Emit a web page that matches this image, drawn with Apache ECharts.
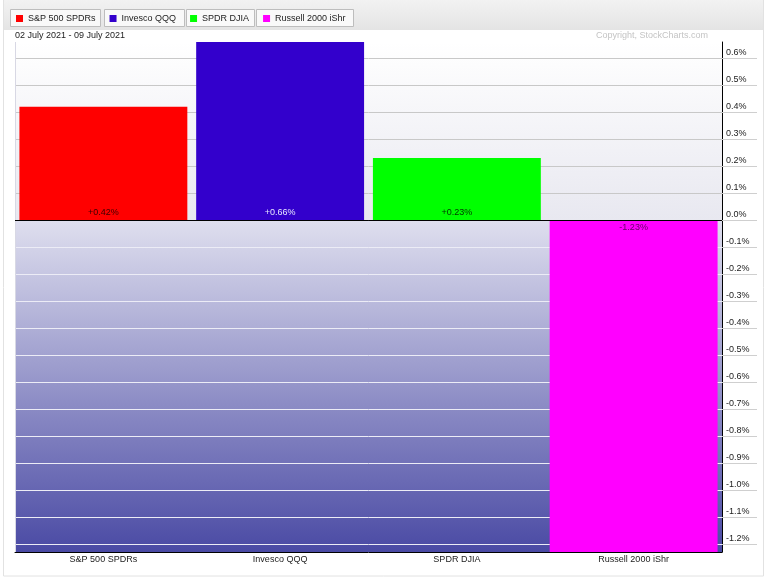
<!DOCTYPE html>
<html>
<head>
<meta charset="utf-8">
<script src="https://cdn.jsdelivr.net/npm/echarts@6/dist/echarts.min.js"></script>
<style>
html,body{margin:0;padding:0;background:#fff;}
#c{width:771px;height:581px;}
</style>
</head>
<body>
<div id="c"></div>
<script>
const categories = ['S&P 500 SPDRs', 'Invesco QQQ', 'SPDR DJIA', 'Russell 2000 iShr'];
const values = [0.42, 0.66, 0.23, -1.23];
const barColors = ['#ff0000', '#3300cc', '#00ff00', '#ff00ff'];
const labelColors = ['#3a0000', '#e6e6ff', '#003300', '#660066'];
const yTicks = [-1.2, -1.1, -1.0, -0.9, -0.8, -0.7, -0.6, -0.5, -0.4, -0.3, -0.2, -0.1, 0.0, 0.1, 0.2, 0.3, 0.4, 0.5, 0.6];
const dateRange = '02 July 2021 - 09 July 2021';
const copyright = 'Copyright, StockCharts.com';

const chart = echarts.init(document.getElementById('c'), null, {renderer: 'canvas'});

const FONT = 'Liberation Sans, Arial, sans-serif';
const FS = 9;

const series = categories.map((name, i) => ({
  name: name,
  type: 'bar',
  stack: 'all',
  barCategoryGap: '5%',
  itemStyle: {color: barColors[i]},
  data: categories.map((c, j) => j === i ? values[i] : '-'),
  label: {
    show: true,
    position: values[i] >= 0 ? 'insideBottom' : 'insideTop',
    distance: 3,
    formatter: p => (p.value > 0 ? '+' : '') + p.value.toFixed(2) + '%',
    color: labelColors[i],
    fontSize: FS,
    fontFamily: FONT
  },
  markLine: i === 0 ? {
    silent: true,
    symbol: 'none',
    label: {show: false},
    lineStyle: {color: '#000', width: 1, type: 'solid'},
    data: [{yAxis: 0}],
    animation: false
  } : undefined
}));

const splitColors = yTicks.map(v => v > 1e-9 ? '#c8c8c8' : (Math.abs(v) < 1e-9 ? '#000' : '#ececf6'));

chart.setOption({
  animation: false,
  backgroundColor: '#ffffff',
  grid: {
    left: 15, right: 49, top: 42, bottom: 29,
    show: true,
    borderWidth: 0,
    backgroundColor: new echarts.graphic.LinearGradient(0, 0, 0, 1, [
      {offset: 0, color: '#ffffff'},
      {offset: 0.35, color: '#e8e8f0'},
      {offset: 0.352, color: '#dedeee'},
      {offset: 1, color: '#4a4aa4'}
    ])
  },
  legend: {
    left: 11, top: 9,
    itemWidth: 7, itemHeight: 7,
    itemGap: 14,
    icon: 'rect',
    selectedMode: false,
    textStyle: {fontSize: FS, color: '#222', fontFamily: FONT},
    data: categories
  },
  xAxis: {
    type: 'category',
    data: categories,
    axisLine: {onZero: false, lineStyle: {color: '#000', width: 1}},
    axisTick: {show: false},
    axisLabel: {fontSize: FS, color: '#222', fontFamily: FONT, margin: 3}
  },
  yAxis: {
    type: 'value',
    position: 'right',
    min: 'dataMin',
    max: 'dataMax',
    minInterval: 0.1,
    maxInterval: 0.1,
    splitNumber: 19,
    axisLine: {show: true, lineStyle: {color: '#000', width: 1}},
    axisTick: {show: true, length: 35, customValues: yTicks, lineStyle: {color: '#cfcfcf'}},
    splitLine: {show: true, lineStyle: {color: splitColors}},
    axisLabel: {
      fontSize: FS, color: '#222', fontFamily: FONT,
      customValues: yTicks,
      margin: 4, verticalAlign: 'bottom', padding: [0, 0, 1, 0],
      formatter: v => {
        const t = Math.round(v * 10);
        if (Math.abs(v * 10 - t) > 1e-6) return '';
        return (t / 10).toFixed(1) + '%';
      }
    }
  },
  graphic: [
    {type: 'rect', silent: true, z: -10, shape: {x: 3.5, y: -1, width: 760, height: 577}, style: {fill: '#fff', stroke: '#e2e2e2', lineWidth: 1}},
    {type: 'rect', silent: true, z: -9, shape: {x: 4, y: 0, width: 759, height: 30},
      style: {fill: new echarts.graphic.LinearGradient(0, 0, 0, 1, [{offset: 0, color: '#f2f2f2'}, {offset: 1, color: '#e4e4e4'}])}},
    {type: 'rect', silent: true, z: -8, shape: {x: 10.5, y: 9.5, width: 90, height: 17}, style: {fill: '#f9f9f9', stroke: '#bdbdbd'}},
    {type: 'rect', silent: true, z: -8, shape: {x: 104.5, y: 9.5, width: 80, height: 17}, style: {fill: '#f9f9f9', stroke: '#bdbdbd'}},
    {type: 'rect', silent: true, z: -8, shape: {x: 186.5, y: 9.5, width: 68, height: 17}, style: {fill: '#f9f9f9', stroke: '#bdbdbd'}},
    {type: 'rect', silent: true, z: -8, shape: {x: 256.5, y: 9.5, width: 97, height: 17}, style: {fill: '#f9f9f9', stroke: '#bdbdbd'}},
    {type: 'line', silent: true, z: 5, shape: {x1: 15.5, y1: 42, x2: 15.5, y2: 552}, style: {stroke: '#d8d8e4', lineWidth: 1}},
    {type: 'text', silent: true, left: 15, top: 31, style: {text: dateRange, fontSize: FS, fill: '#222', fontFamily: FONT}},
    {type: 'text', silent: true, right: 63, top: 31, style: {text: copyright, fontSize: FS, fill: '#c4c4c4', fontFamily: FONT}}
  ],
  series: series
});
</script>
</body>
</html>
